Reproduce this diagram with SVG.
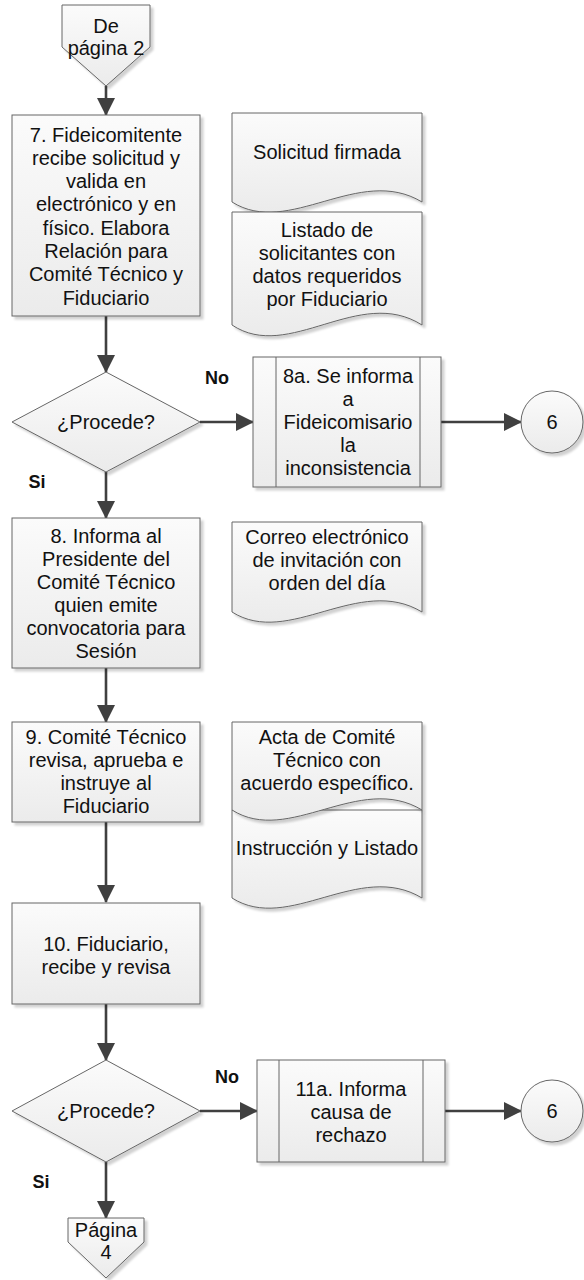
<svg xmlns="http://www.w3.org/2000/svg" width="584" height="1280" viewBox="0 0 584 1280">
<defs>
<linearGradient id="g" x1="0" y1="0" x2="0" y2="1">
<stop offset="0" stop-color="#fbfbfb"/>
<stop offset="1" stop-color="#ebebeb"/>
</linearGradient>
<filter id="sh" x="-10%" y="-10%" width="130%" height="130%">
<feDropShadow dx="3" dy="3" stdDeviation="1.2" flood-color="#000" flood-opacity="0.18"/>
</filter>
<marker id="ah" viewBox="0 0 18 18" refX="17" refY="9" markerWidth="18" markerHeight="18" markerUnits="userSpaceOnUse" orient="auto">
<path d="M0,0 L18,9 L0,18 Z" fill="#404040"/>
</marker>
</defs>
<style>
.s{fill:url(#g);stroke:#666;stroke-width:1;filter:url(#sh)}
.ln{fill:none;stroke:#666;stroke-width:1}
.c{fill:none;stroke:#404040;stroke-width:2.6;marker-end:url(#ah)}
text{font-family:"Liberation Sans",Arial,sans-serif;font-size:20px;fill:#111;text-anchor:middle}
.b{font-weight:bold;font-size:18px}
</style>

<g id="connectors">
<line class="c" x1="106" y1="86" x2="106" y2="115"/>
<line class="c" x1="106" y1="316" x2="106" y2="372"/>
<line class="c" x1="200" y1="422" x2="253" y2="422"/>
<line class="c" x1="441" y1="422" x2="521" y2="422"/>
<line class="c" x1="106" y1="472" x2="106" y2="518"/>
<line class="c" x1="106" y1="668" x2="106" y2="722"/>
<line class="c" x1="106" y1="822" x2="106" y2="902"/>
<line class="c" x1="106" y1="1004" x2="106" y2="1060"/>
<line class="c" x1="200" y1="1111" x2="257" y2="1111"/>
<line class="c" x1="445" y1="1111" x2="521" y2="1111"/>
<line class="c" x1="106" y1="1162" x2="106" y2="1218"/>
<text class="b" x="217" y="384">No</text>
<text class="b" x="37" y="488">Si</text>
<text class="b" x="227" y="1083">No</text>
<text class="b" x="41" y="1188">Si</text>
</g>

<g id="offpage-top">
<path class="s" d="M62,5 H150 V47 L106,86 L62,47 Z"/>
<text x="106" y="33">De</text>
<text x="106" y="55">página 2</text>
</g>

<g id="step7">
<rect class="s" x="12" y="115" width="188" height="201"/>
<text x="106" y="141.5">7. Fideicomitente</text>
<text x="106" y="164.8">recibe solicitud y</text>
<text x="106" y="188.1">valida en</text>
<text x="106" y="211.4">electrónico y en</text>
<text x="106" y="234.7">físico. Elabora</text>
<text x="106" y="258">Relación para</text>
<text x="106" y="281.3">Comité Técnico y</text>
<text x="106" y="304.6">Fiduciario</text>
</g>

<g id="doc-solicitud">
<path class="s" d="M232,113 H422 V202 C359,164 289,238 232,202 Z"/>
<text x="327" y="159">Solicitud firmada</text>
</g>

<g id="doc-listado">
<path class="s" d="M232,212 H422 V325 C359,285 289,363 232,325 Z"/>
<text x="327" y="237">Listado de</text>
<text x="327" y="260">solicitantes con</text>
<text x="327" y="283">datos requeridos</text>
<text x="327" y="306">por Fiduciario</text>
</g>

<g id="decision1">
<path class="s" d="M106,372 L200,422 L106,472 L12,422 Z"/>
<text x="106" y="429">¿Procede?</text>
</g>

<g id="step8a">
<rect class="s" x="253" y="357" width="188" height="130"/>
<line class="ln" x1="276" y1="357" x2="276" y2="487"/>
<line class="ln" x1="420" y1="357" x2="420" y2="487"/>
<text x="348" y="383">8a. Se informa</text>
<text x="348" y="406">a</text>
<text x="348" y="429">Fideicomisario</text>
<text x="348" y="452">la</text>
<text x="348" y="475">inconsistencia</text>
</g>

<g id="conn6a">
<circle class="s" cx="552" cy="422" r="31"/>
<text x="552" y="429">6</text>
</g>

<g id="step8">
<rect class="s" x="12" y="518" width="188" height="150"/>
<text x="106" y="543">8. Informa al</text>
<text x="106" y="566">Presidente del</text>
<text x="106" y="589">Comité Técnico</text>
<text x="106" y="612">quien emite</text>
<text x="106" y="635">convocatoria para</text>
<text x="106" y="658">Sesión</text>
</g>

<g id="doc-correo">
<path class="s" d="M232,522 H422 V612 C359,574 289,648 232,612 Z"/>
<text x="327" y="544">Correo electrónico</text>
<text x="327" y="567">de invitación con</text>
<text x="327" y="590">orden del día</text>
</g>

<g id="step9">
<rect class="s" x="12" y="722" width="188" height="100"/>
<text x="106" y="744">9. Comité Técnico</text>
<text x="106" y="767">revisa, aprueba e</text>
<text x="106" y="790">instruye al</text>
<text x="106" y="813">Fiduciario</text>
</g>

<g id="doc-instruccion">
<path class="s" d="M232,810 H422 V898 C359,860 289,934 232,898 Z"/>
<text x="327" y="855">Instrucción y Listado</text>
</g>

<g id="doc-acta">
<path class="s" d="M232,722 H422 V810 C359,772 289,846 232,810 Z"/>
<text x="327" y="744">Acta de Comité</text>
<text x="327" y="767">Técnico con</text>
<text x="327" y="790">acuerdo específico.</text>
</g>

<g id="step10">
<rect class="s" x="12" y="903" width="188" height="101"/>
<text x="106" y="951">10. Fiduciario,</text>
<text x="106" y="974">recibe y revisa</text>
</g>

<g id="decision2">
<path class="s" d="M106,1060 L200,1111 L106,1162 L12,1111 Z"/>
<text x="106" y="1118">¿Procede?</text>
</g>

<g id="step11a">
<rect class="s" x="257" y="1060" width="188" height="102"/>
<line class="ln" x1="279" y1="1060" x2="279" y2="1162"/>
<line class="ln" x1="423" y1="1060" x2="423" y2="1162"/>
<text x="351" y="1096">11a. Informa</text>
<text x="351" y="1119">causa de</text>
<text x="351" y="1142">rechazo</text>
</g>

<g id="conn6b">
<circle class="s" cx="552" cy="1111" r="31"/>
<text x="552" y="1118">6</text>
</g>

<g id="offpage-bottom">
<path class="s" d="M68,1218 H144 V1242 L106,1278 L68,1242 Z"/>
<text x="106" y="1237">Página</text>
<text x="106" y="1259">4</text>
</g>
</svg>
